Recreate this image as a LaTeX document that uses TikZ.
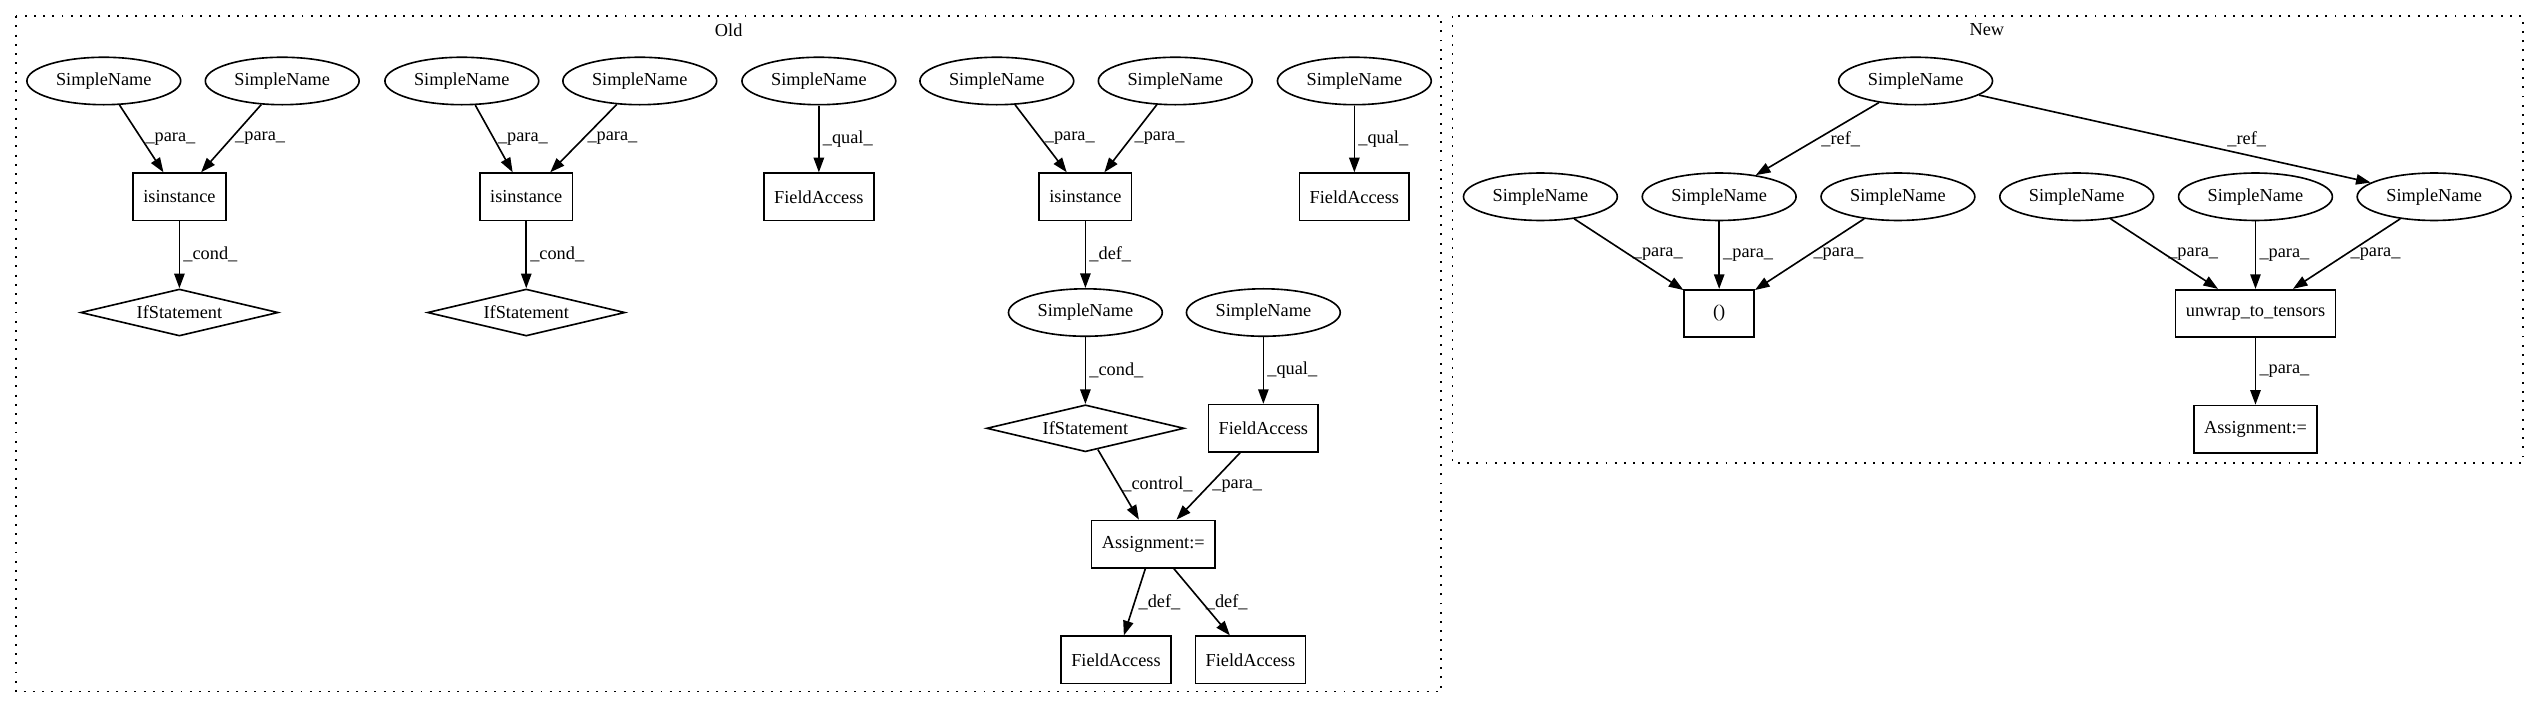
\documentclass[tikz,border=0pt]{standalone}
\usepackage{fontspec}
\setmainfont{Liberation Serif}
\usetikzlibrary{arrows.meta,shapes.geometric}

\tikzset{
  sn/.style={shape=ellipse,draw=black,minimum width=95pt,minimum height=29.3pt,inner sep=0pt},
  op/.style={shape=rectangle,draw=black,minimum width=43.2pt,minimum height=29.2pt,inner xsep=6.3pt},
  ifs/.style={shape=diamond,draw=black,aspect=4.2,inner sep=0pt,minimum width=122pt,minimum height=29pt},
  arr/.style={-{Triangle[length=9pt,width=6.4pt]}},
  lbl/.style={anchor=west,inner sep=2pt},
  cluster/.style={dash pattern=on 1.2pt off 4.5pt,line width=1pt}
}

\begin{document}
\begin{tikzpicture}[x=1pt,y=-1pt,line width=1pt,font=\fontsize{11.3}{13.5}\selectfont]
    \useasboundingbox (0,0) rectangle (1568,440);
    \draw[cluster] (9.8,10) rectangle (890,427);
    \draw[cluster] (897,10) rectangle (1558,286);
    \node (old) at (450,18.5) {Old};
    \node (new) at (1227,18.5) {New};

    \node[sn] (1) at (64.1,50) {SimpleName};
    \node[sn] (2) at (174.3,50) {SimpleName};
    \node[op] (3) at (110.8,121.5) {isinstance};
    \node[ifs] (4) at (110.8,193) {IfStatement};
    \node[sn] (5) at (285.2,50) {SimpleName};
    \node[sn] (6) at (395.1,50) {SimpleName};
    \node[op] (7) at (325,121.5) {isinstance};
    \node[ifs] (8) at (325,193) {IfStatement};
    \node[sn] (9) at (505.7,50) {SimpleName};
    \node[op] (10) at (505.7,121.5) {FieldAccess};
    \node[sn] (11) at (615.6,50) {SimpleName};
    \node[sn] (12) at (725.8,50) {SimpleName};
    \node[op] (13) at (670.3,121.5) {isinstance};
    \node[sn] (14) at (670.3,193) {SimpleName};
    \node[ifs] (15) at (670.3,264.5) {IfStatement};
    \node[sn] (16) at (836.4,50) {SimpleName};
    \node[op] (17) at (836.4,121.5) {FieldAccess};
    \node[sn] (18) at (780.2,193) {SimpleName};
    \node[op] (19) at (780.2,264.5) {FieldAccess};
    \node[op] (20) at (712.2,336) {Assignment:=};
    \node[op] (21) at (689.2,407.5) {FieldAccess};
    \node[op] (22) at (772.2,407.5) {FieldAccess};

    \node[sn] (23) at (1183,50) {SimpleName};
    \node[sn] (24) at (951.3,121.5) {SimpleName};
    \node[sn] (25) at (1061.7,121.5) {SimpleName};
    \node[sn] (26) at (1172.1,121.5) {SimpleName};
    \node[sn] (27) at (1282.5,121.5) {SimpleName};
    \node[sn] (28) at (1392.9,121.5) {SimpleName};
    \node[sn] (29) at (1503.2,121.5) {SimpleName};
    \node[op] (30) at (1061.7,193.5) {()};
    \node[op] (31) at (1392.9,193.5) {unwrap\_to\_tensors};
    \node[op] (32) at (1392.9,265) {Assignment:=};

    \draw[arr] (1) -- node[lbl] {\_para\_} (3);
    \draw[arr] (2) -- node[lbl] {\_para\_} (3);
    \draw[arr] (3) -- node[lbl] {\_cond\_} (4);
    \draw[arr] (5) -- node[lbl] {\_para\_} (7);
    \draw[arr] (6) -- node[lbl] {\_para\_} (7);
    \draw[arr] (7) -- node[lbl] {\_cond\_} (8);
    \draw[arr] (9) -- node[lbl] {\_qual\_} (10);
    \draw[arr] (11) -- node[lbl] {\_para\_} (13);
    \draw[arr] (12) -- node[lbl] {\_para\_} (13);
    \draw[arr] (13) -- node[lbl] {\_def\_} (14);
    \draw[arr] (14) -- node[lbl] {\_cond\_} (15);
    \draw[arr] (16) -- node[lbl] {\_qual\_} (17);
    \draw[arr] (18) -- node[lbl] {\_qual\_} (19);
    \draw[arr] (15) -- node[lbl] {\_control\_} (20);
    \draw[arr] (19) -- node[lbl] {\_para\_} (20);
    \draw[arr] (20) -- node[lbl] {\_def\_} (21);
    \draw[arr] (20) -- node[lbl] {\_def\_} (22);

    \draw[arr] (23) -- node[lbl] {\_ref\_} (25);
    \draw[arr] (23) -- node[lbl,xshift=30pt] {\_ref\_} (29);
    \draw[arr] (24) -- node[lbl] {\_para\_} (30);
    \draw[arr] (25) -- node[lbl] {\_para\_} (30);
    \draw[arr] (26) -- node[lbl] {\_para\_} (30);
    \draw[arr] (27) -- node[lbl] {\_para\_} (31);
    \draw[arr] (28) -- node[lbl] {\_para\_} (31);
    \draw[arr] (29) -- node[lbl] {\_para\_} (31);
    \draw[arr] (31) -- node[lbl] {\_para\_} (32);
\end{tikzpicture}
\end{document}
